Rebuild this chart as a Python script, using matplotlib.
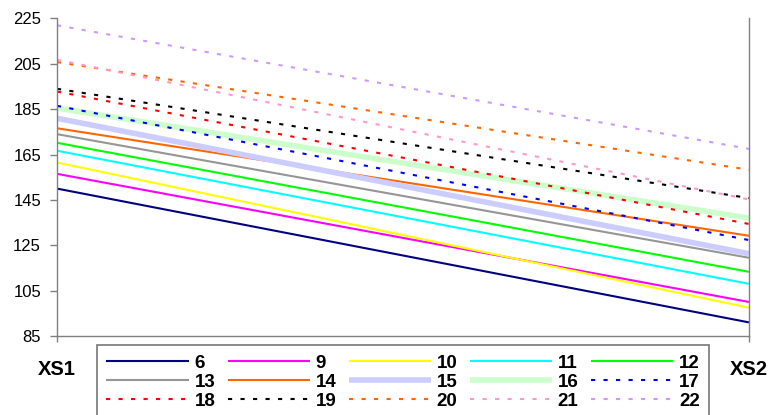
import matplotlib
matplotlib.use("Agg")
import matplotlib.pyplot as plt

plt.rcParams['font.family'] = ['Liberation Sans', 'DejaVu Sans']

categories = ['XS1', 'XS2']
series = ['6', '9', '10', '11', '12', '13', '14', '15', '16', '17', '18', '19', '20', '21', '22']
xs1_values = [150, 156.5, 161.5, 166.7, 170.2, 174, 176.6, 181, 185.5, 186.5, 192.8, 194, 205.8, 206.8, 222]
xs2_values = [91, 100, 97.5, 108, 113.3, 119.5, 129.2, 121.3, 137, 127.3, 134.4, 145.8, 158.3, 145.2, 167.5]
y_ticks = [85, 105, 125, 145, 165, 185, 205, 225]

colors = ['#000080', '#FF00FF', '#FFFF00', '#00FFFF', '#00FF00', '#969696', '#FF6600',
          '#CCCCFF', '#CCFFCC', '#0000FF', '#FF0000', '#000000', '#FF6600', '#FF99CC', '#CC99FF']
widths = [1.5, 1.5, 1.5, 1.5, 1.5, 1.5, 1.5, 4.0, 4.0, 1.5, 1.5, 1.5, 1.5, 1.5, 1.5]
dot = (0, (2, 4))
styles = ['-'] * 9 + [dot] * 6

fig = plt.figure(figsize=(7.74, 4.15), dpi=100)
ax = fig.add_axes([57 / 774, 1 - 336 / 415, (749 - 57) / 774, (336 - 18.5) / 415])

x = list(range(len(categories)))
handles = []
for name, a, b, c, w, s in zip(series, xs1_values, xs2_values, colors, widths, styles):
    h, = ax.plot(x, [a, b], color=c, lw=w, linestyle=s, label=name, solid_capstyle='butt',
                 dash_capstyle='butt')
    handles.append(h)

ax.set_xlim(0, 1)
ax.set_ylim(85, 225)
ax.set_yticks(y_ticks)
ax.set_yticklabels([str(v) for v in y_ticks], fontsize=12)
ax.set_xticks(x)
ax.set_xticklabels(categories, fontsize=14.5, fontweight='bold')

for side in ['left', 'bottom', 'right']:
    ax.spines[side].set_color('#808080')
    ax.spines[side].set_linewidth(1.0)
ax.spines['top'].set_visible(False)
ax.tick_params(axis='y', length=5, width=1.0, color='#808080', pad=6.5)
ax.tick_params(axis='x', length=4, width=1.0, color='#808080', pad=13)

# row-major ordering for a 5-column legend
ncol, nrow = 5, 3
order = [r * ncol + c for c in range(ncol) for r in range(nrow)]
leg = fig.legend([handles[i] for i in order], [series[i] for i in order],
                 loc='upper left', bbox_to_anchor=(97 / 774, 1 - 345 / 415),
                 ncol=ncol, prop={'weight': 'bold', 'size': 13.5},
                 handlelength=4.4, handletextpad=0.3, columnspacing=0.65,
                 labelspacing=0.11, borderpad=0.5, borderaxespad=0,
                 frameon=True, fancybox=False)
leg.get_frame().set_edgecolor('#555555')
leg.get_frame().set_linewidth(1.2)

fig.savefig('out.png', dpi=100)
